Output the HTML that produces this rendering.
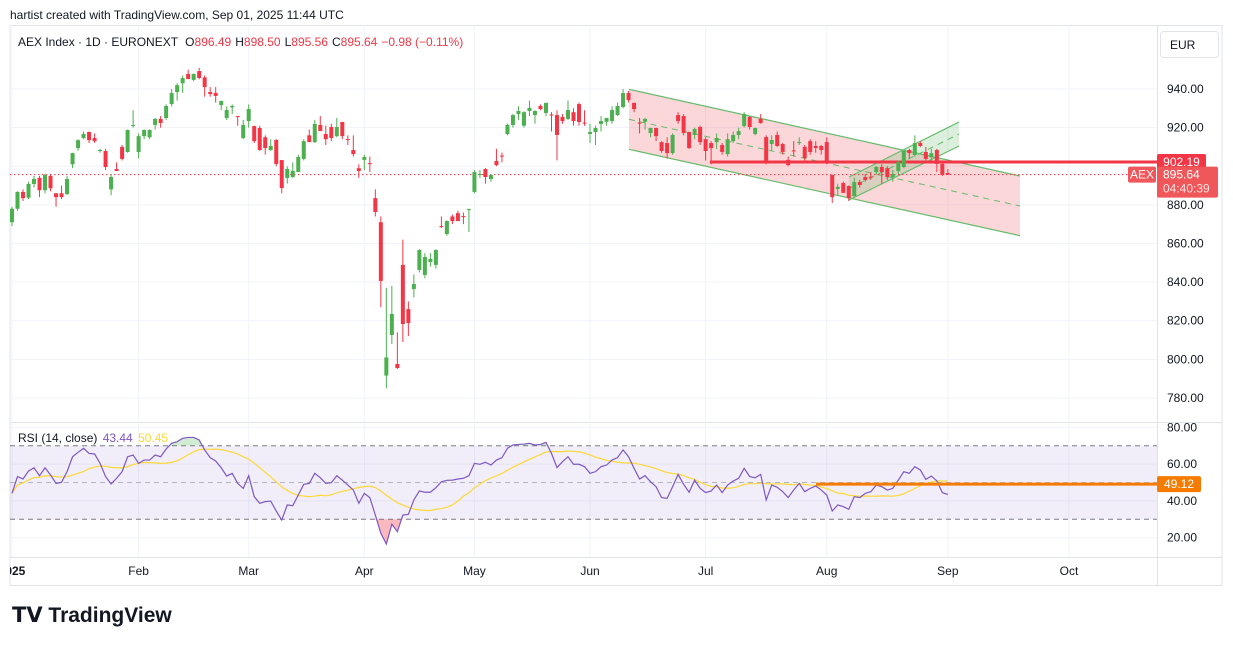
<!DOCTYPE html>
<html><head><meta charset="utf-8"><style>
html,body{margin:0;padding:0;background:#fff;}
body{width:1233px;height:645px;overflow:hidden;font-family:"Liberation Sans",sans-serif;}
svg text{font-family:"Liberation Sans",sans-serif;}
</style></head><body>
<svg id="chart" width="1233" height="645" viewBox="0 0 1233 645" xmlns="http://www.w3.org/2000/svg">
<defs>
<clipPath id="plotClip"><rect x="10" y="25" width="1147" height="397"/></clipPath>
<clipPath id="rsiClip"><rect x="10" y="423" width="1147" height="134"/></clipPath>
<clipPath id="obClip"><rect x="10" y="423" width="1147" height="22.7"/></clipPath>
<clipPath id="osClip"><rect x="10" y="519.3" width="1147" height="38"/></clipPath>
<clipPath id="axisClip"><rect x="10" y="557" width="1147" height="28"/></clipPath>
</defs>
<text x="10" y="19" font-size="12" fill="#131722">hartist created with TradingView.com, Sep 01, 2025 11:44 UTC</text>
<rect x="10" y="25.5" width="1212" height="560" fill="none" stroke="#e0e3eb"/>
<line x1="1157.5" y1="25" x2="1157.5" y2="585" stroke="#e0e3eb"/>
<line x1="10" y1="422.5" x2="1222" y2="422.5" stroke="#e0e3eb"/>
<line x1="10" y1="557.5" x2="1222" y2="557.5" stroke="#e0e3eb"/>
<g id="grid"></g>
<g id="rsiBand"></g>
<g id="drawings" clip-path="url(#plotClip)"></g>
<g id="candles" clip-path="url(#plotClip)"></g>
<g id="rsiG" clip-path="url(#rsiClip)"></g>
<g id="axes"></g>
<text x="18" y="46" font-size="12" fill="#131722">AEX Index · 1D · EURONEXT <tspan dx="4">O</tspan><tspan fill="#f23645">896.49</tspan><tspan dx="4">H</tspan><tspan fill="#f23645">898.50</tspan><tspan dx="4">L</tspan><tspan fill="#f23645">895.56</tspan><tspan dx="4">C</tspan><tspan fill="#f23645">895.64</tspan><tspan dx="4" fill="#f23645">−0.98 (−0.11%)</tspan></text>
<text x="18" y="442" font-size="12" fill="#131722">RSI (14, close) <tspan fill="#7e57c2" dx="2">43.44</tspan> <tspan fill="#fdd835" dx="2">50.45</tspan></text>
<g><rect x="1160.5" y="31.5" width="58" height="26" rx="3" fill="#fff" stroke="#e0e3eb"/><text x="1170" y="49" font-size="12" fill="#131722">EUR</text></g>
<text x="12" y="622" font-size="21" font-weight="bold" fill="#131722">𝗧𝗩 TradingView</text>
</svg>
<script>
const opens=[871,878,886.7,883.7,890.8,894,887.6,895,886,886,885.6,901,909.4,914.6,917.7,914.6,908,907.9,888,898.6,910,907.4,921,907.4,915.6,915,921.4,924.5,925,932.2,938.4,943,947.8,944.7,949.3,946,938.4,938,931.7,925,930.5,926,914.6,923.4,920.8,919.8,915,908.4,913.6,903.2,893.9,894.4,897,903.8,916,912.5,921.4,916.7,920.3,915.6,922.9,914.1,908.4,899,903.3,901.6,883.5,871,791.6,812.6,797.6,848.9,826,836.4,846.3,843.7,850.4,848.9,869,864.9,874,875.7,874.2,877.3,886.7,895.5,898.6,893.4,902.7,905.5,916.7,921.4,927,921,928.6,926.5,931.2,927.6,926.8,926.5,925.5,924.5,928,932.2,922.6,916.7,917.7,921.9,923,923.4,926.5,930.7,937.9,932.8,922.6,923,917.2,919.8,912.5,912,906.8,926.5,926,917.7,916.2,920.3,914,912,912.5,911,906.3,913,916.2,920.8,925.5,916.7,924.5,915.1,911.5,916.2,911.5,903.3,908.2,912.3,910,913,910.5,910.5,912.5,895.5,888.2,891.3,889.8,884.6,891.8,894.4,894.6,897,899.6,899,894.4,897.5,899.6,908.4,905.8,912,907.4,904.8,908.4,901.2,896.49];
const highs=[879,887,888,892,895,895,896,896,886,890,895,907,914,918,918,917,909,909,896,902,911,919,929,917,919,919,925,926,932,940,943,947,950,948,951,947,941,941,934,931,932,926,924,932,921,921,916,914,914,903,900,902,906,914,919,924,926,921,922,925,923,916,916,901,906,905,888,874,837,838,814,862,830,844,857,855,855,857,874,872,875,877,876,878,898,898,899,896,909,907,922,927,931,928.5,934,929,932,933,928,929,927,934,930,933,929,922,921,926,925,931,933,940,939,933,925,925,920,920,913,915,917,928,927,918,920,921,915,913,917,912,917,918,920,928,926,920,927,916,916,918,912,905,913,915,911,914,913,911,915,895.5,891,892,890,894,893,896,897,900,901,900,898,903,908,909,916,913,910,909,909,903,898.5];
const lows=[869,877,882,883,889,884,886,887,879,883,885,899,908,914,912,912,907,898,885,898,903,907,920,904,914,914,919,920,924,931,934,938,945,944,945,936,936,933,929,924,927,921,914,920,912,908,906,908,900,886,891,894,897,903,913,912,919,911,913,915,914,911,905,894,898,897,874,827,785,808,795,809,812,832,845,842,848,847,868,864,870,872,870,866,886,894,891,892,900,902,916,920,924,920,926,922,929,926,918,903,922,924,921,921,921,912,911,918,921,922,926,930,933,928,917,919,915,913,907,904,906,922,916,909,914,911,903,901,909,906,905,912,914,920,919,916,922,901,908,910,906,900,905,911,903,906,907,906,901,881,885,886,882,884,889,892,893,896,891,893,892,896,899,904,905,910,903,903,897,895,895.56];
const closes=[878,886.7,883.5,890.8,893.4,887.6,895.5,888.6,884,884,893.4,906.8,913.5,916.7,913.5,913,908.4,899.6,894.4,897.5,903.8,918.8,921.4,915.6,918.8,918.8,924.5,922.4,931.2,937.9,942,945.7,945.2,947.8,945.7,941,937.4,936.4,933.8,929.1,931.2,925.5,921.4,929.6,913,908.4,909.4,910.5,901.2,888.7,898.6,897.6,904.8,913,912.5,921.9,918.2,914,914.6,920.3,915.6,913.8,906.3,897.5,904.8,901.2,876.3,840.6,801,823.5,795.5,818.3,818.8,839,856.6,853,852,856.6,868.5,871.6,871.6,871.6,874,877.8,897,896,894.4,895.5,900.6,905.3,921.4,926.5,928.6,928,930.2,928.6,929.6,932.8,926.5,916.2,923.4,929.1,923.4,922.9,922.4,917.7,919.8,923.4,925,929.1,931.2,937.9,934.3,929.6,922.4,924.5,919.8,915.6,907.9,906.8,916.2,923.4,917.2,909.4,919.3,912.5,907.9,909.4,914.6,907.4,914,916.2,918.2,927,920.3,919.8,922.4,901.7,913.6,910.5,907.4,900.6,908,912.5,904.3,907.4,909.4,908.4,902.2,884,889.3,886.2,883.5,891.8,890.3,892.9,894.4,899.6,897,894.4,896,902.2,907.9,906.8,912,910.5,903.8,906.8,901.2,895.5,895.64];
const rsiValues=[44.1,53.2,51.9,56.2,58.0,53.7,58.0,54.1,49.5,50.1,55.9,64.0,66.4,68.6,65.8,65.5,60.4,53.2,49.2,52.3,55.9,64.0,64.9,60.4,62.2,62.2,64.9,64.0,68.2,71.3,72.2,74.0,74.5,74.5,73.1,67.7,63.5,61.7,58.0,53.5,55.0,49.5,46.8,53.7,42.3,38.7,39.6,39.9,34.5,29.6,37.8,37.4,43.2,49.0,49.5,55.0,52.6,49.5,49.9,53.7,51.3,48.6,45.9,38.7,44.1,41.8,32.3,22.4,16.6,27.3,23.3,32.3,32.7,40.5,45.4,44.7,44.7,47.2,50.4,51.2,51.3,51.9,52.3,53.7,60.4,59.9,61.0,59.5,62.2,63.5,68.6,70.4,70.7,70.9,71.3,70.4,70.7,71.8,65.8,58.1,61.3,64.0,59.9,59.9,58.6,55.0,55.9,58.6,59.5,62.2,63.5,67.7,64.0,57.7,51.9,53.7,50.4,47.7,41.8,41.4,47.7,54.4,49.0,44.7,51.3,46.8,44.5,45.4,48.6,44.5,48.6,50.8,52.3,57.7,53.2,52.6,54.4,40.5,48.6,47.4,45.0,41.8,45.9,49.5,45.0,46.8,48.1,45.9,43.2,34.5,37.8,36.9,35.4,42.3,41.8,44.1,45.0,48.6,47.7,45.9,46.8,51.3,55.9,55.0,58.6,56.8,51.7,53.5,50.9,44.5,43.44];
const priceTicks=[940,920,900,880,860,840,820,800,780];
const rsiTicks=[80,60,40,20];
const monthLabels=["2025","Feb","Mar","Apr","May","Jun","Jul","Aug","Sep","Oct"];
const monthIndex=[0,23,43,64,84,105,126,148,170,192];
const lastPrice=895.64, hLevel=902.19, rsiLevel=49.12;

const NS="http://www.w3.org/2000/svg";
const X=i=>12+i*5.505;
const Y=p=>89+(940-p)*1.931;
const RY=v=>445.7+(70-v)*1.84;
function mk(tag,attrs,parent){const e=document.createElementNS(NS,tag);for(const k in attrs)e.setAttribute(k,attrs[k]);parent.appendChild(e);return e;}
const grid=document.getElementById('grid'),axes=document.getElementById('axes');
// grid & price axis
priceTicks.forEach(p=>{
  const l=mk('line',{x1:10,x2:1157,y1:Y(p),y2:Y(p),stroke:'#f0f3fa'},grid);
  
  
  const t=mk('text',{x:1167,y:Y(p)+4,'font-size':12,fill:'#131722'},axes);t.textContent=p.toFixed(2);
  
  
});
rsiTicks.forEach(v=>{
  const l=mk('line',{x1:10,x2:1157,y1:RY(v),y2:RY(v),stroke:'#f0f3fa'},grid);
  
  
  const t=mk('text',{x:1167,y:RY(v)+4,'font-size':12,fill:'#131722'},axes);t.textContent=v.toFixed(2);
  
  
});
const tg=mk('g',{'clip-path':'url(#axisClip)'},axes);
monthLabels.forEach((m,k)=>{
  const x=X(monthIndex[k]);
  const l=mk('line',{x1:x,x2:x,y1:25,y2:557,stroke:'#f0f3fa'},grid);
  
  
  const t=mk('text',{x:x,y:575,'font-size':12,fill:'#131722','text-anchor':'middle','font-weight':k===0?'bold':'normal'},tg);t.textContent=m;
  
  
});
// rsi band
const band=document.getElementById('rsiBand');
const br=mk('rect',{x:10,y:RY(70),width:1147,height:RY(30)-RY(70),fill:'rgba(126,87,194,0.1)'},band);


[70,50,30].forEach(v=>{
  const l=mk('line',{x1:10,x2:1157,y1:RY(v),y2:RY(v),stroke:v===50?'#b2b5be':'#787b86','stroke-dasharray':'5,4'},band);
  
  
});
// drawings
const dr=document.getElementById('drawings');
const pc=mk('polygon',{points:'629,89.3 1020,176 1020,235.7 629,149.3',fill:'rgba(242,54,69,0.2)',stroke:'none'},dr);


[[629,89.3,1020,176],[629,149.3,1020,235.7]].forEach(a=>{const l=mk('line',{x1:a[0],y1:a[1],x2:a[2],y2:a[3],stroke:'#66bb6a','stroke-width':1.2},dr);
  
  });
const pm=mk('line',{x1:629,y1:119.3,x2:1020,y2:206,stroke:'#66bb6a','stroke-dasharray':'6,5'},dr);


const gc=mk('polygon',{points:'849,177 959,122 959,146 849,200',fill:'rgba(76,175,80,0.2)'},dr);


[[849,177,959,122],[849,200,959,146]].forEach(a=>{const l=mk('line',{x1:a[0],y1:a[1],x2:a[2],y2:a[3],stroke:'#66bb6a','stroke-width':1.2},dr);
  
  });
const gm=mk('line',{x1:849,y1:188.5,x2:959,y2:134,stroke:'#66bb6a','stroke-dasharray':'6,5'},dr);


const hl=mk('line',{x1:710,x2:1157,y1:Y(hLevel),y2:Y(hLevel),stroke:'#f23645','stroke-width':3},dr);


const lp=mk('line',{x1:10,x2:1157,y1:Y(lastPrice),y2:Y(lastPrice),stroke:'#f23645','stroke-dasharray':'1.5,2.5'},dr);


// candles
const cg=document.getElementById('candles');
closes.forEach((c,i)=>{
  const o=opens[i],up=c>=o,col=up?'#4caf50':'#f23645',x=X(i);
  const g=mk('g',{},cg);
  
  
  mk('line',{x1:x,x2:x,y1:Y(highs[i]),y2:Y(lows[i]),stroke:col,'stroke-width':1},g);
  const t=Y(Math.max(o,c)),b=Y(Math.min(o,c));
  mk('rect',{x:x-2,y:t,width:4,height:Math.max(1,b-t),fill:col},g);
});
// rsi
const rg=document.getElementById('rsiG');
const pts=rsiValues.map((v,i)=>X(i)+','+RY(v)).join(' ');
const ob=mk('polygon',{points:pts+` ${X(rsiValues.length-1)},${RY(70)} ${X(0)},${RY(70)}`,fill:'rgba(76,175,80,0.25)','clip-path':'url(#obClip)'},rg);


const os=mk('polygon',{points:pts+` ${X(rsiValues.length-1)},${RY(30)} ${X(0)},${RY(30)}`,fill:'rgba(242,54,69,0.35)','clip-path':'url(#osClip)'},rg);


const ma=rsiValues.map((v,i)=>{const s=rsiValues.slice(Math.max(0,i-13),i+1);return s.reduce((a,b)=>a+b,0)/s.length;});
const mal=mk('polyline',{points:ma.map((v,i)=>X(i)+','+RY(v)).join(' '),fill:'none',stroke:'#fdd835','stroke-width':1.2},rg);


const rl=mk('polyline',{points:pts,fill:'none',stroke:'#7e57c2','stroke-width':1.2},rg);


const ol=mk('line',{x1:816,x2:1157,y1:RY(rsiLevel),y2:RY(rsiLevel),stroke:'#f57c00','stroke-width':3},rg);


// axis labels
function tag(y,h,fill,txt,x,w,name){const g=mk('g',{},axes);
  
  
  mk('rect',{x:x,y:y-h/2,width:w,height:h,rx:2,fill:fill},g);
  const t=mk('text',{x:x+w/2,y:y+4,'font-size':12,fill:'#fff','text-anchor':'middle'},g);t.textContent=txt;return g;}
tag(Y(hLevel),16,'#f23645',hLevel.toFixed(2),1157,49,'level-price-label');
const lg=mk('g',{},axes);


mk('rect',{x:1157,y:Y(lastPrice)-8,width:61,height:31,rx:2,fill:'#f0575a'},lg);
const t1=mk('text',{x:1163,y:Y(lastPrice)+4,'font-size':12,fill:'#fff'},lg);t1.textContent=lastPrice.toFixed(2);
const t2=mk('text',{x:1163,y:Y(lastPrice)+18,'font-size':12,fill:'#ffe0e0'},lg);t2.textContent='04:40:39';
tag(Y(lastPrice),16,'#f0575a','AEX',1128,28,'symbol-price-tag');
tag(RY(rsiLevel),16,'#f57c00',rsiLevel.toFixed(2),1157,44,'rsi-level-label');
</script>
</body></html>
